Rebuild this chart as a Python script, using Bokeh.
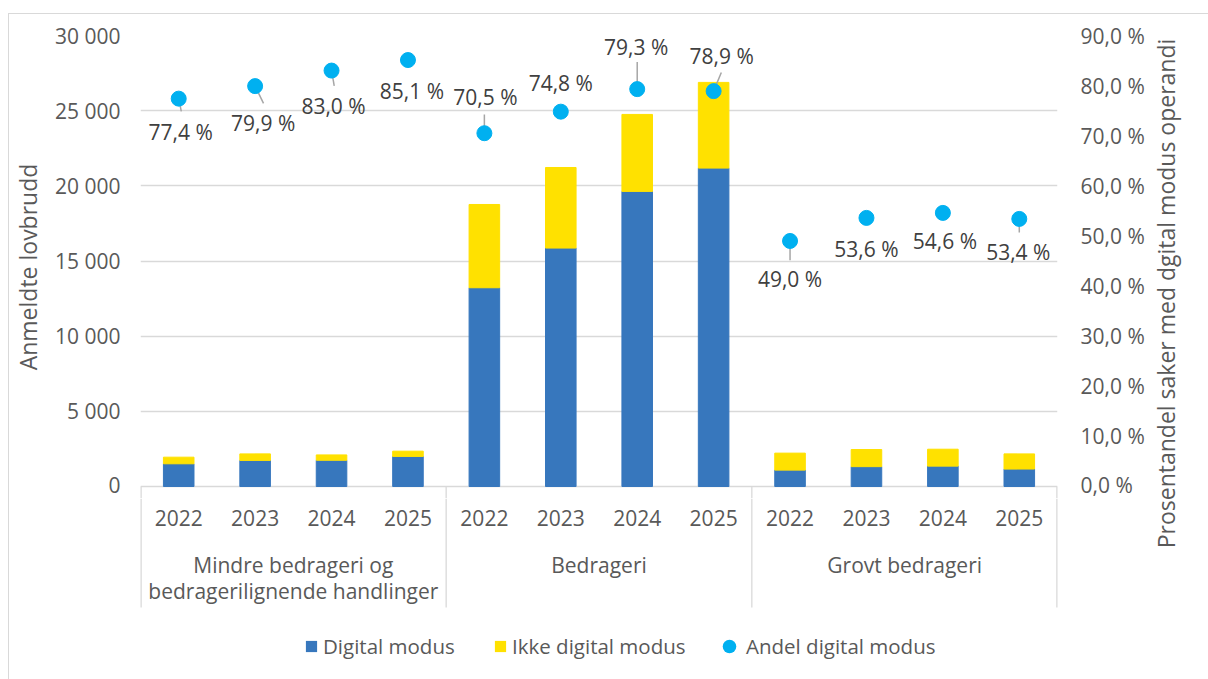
import math
from bokeh.plotting import figure
from bokeh.layouts import column, row
from bokeh.models import (Range1d, LinearAxis, FixedTicker, CustomJSTickFormatter,
                          ColumnDataSource, Legend, LegendItem)
from bokeh.core.properties import value
from bokeh.embed import file_html
from bokeh.resources import INLINE

# ---------------- data ----------------
groups = ["Mindre bedrageri og\nbedragerilignende handlinger", "Bedrageri", "Grovt bedrageri"]
years = ["2022", "2023", "2024", "2025"]
digital = [1510, 1735, 1745, 2000, 13220, 15860, 19630, 21180, 1090, 1320, 1355, 1160]
ikke_digital = [440, 435, 355, 350, 5540, 5360, 5120, 5700, 1130, 1140, 1125, 1010]
andel = [77.4, 79.9, 83.0, 85.1, 70.5, 74.8, 79.3, 78.9, 49.0, 53.6, 54.6, 53.4]
left_ticks = [0, 5000, 10000, 15000, 20000, 25000, 30000]
right_ticks = [0, 10, 20, 30, 40, 50, 60, 70, 80, 90]
series_names = ["Digital modus", "Ikke digital modus", "Andel digital modus"]
left_title = "Anmeldte lovbrudd"
right_title = "Prosentandel saker med dgital modus operandi"

# ---------------- style / layout ----------------
FONT = "Open Sans"
BLUE = "#3777BD"
YELLOW = "#FFE100"
CYAN = "#00B0F0"
GRID = "#d9d9d9"
TXT = "#595959"
LBL = "#404040"

PAGE_X0, PAGE_Y0 = 9, 14          # canvas origin inside the chart border
PAGE_R, PAGE_B = 1208, 679
TITLE_STRIP_X = 1150              # narrow strip that holds the right title
FRAME_L, FRAME_R, FRAME_T = 138, 1057, 35
ZERO_Y = 486
SPLIT_Y = 498          # where top figure ends / bottom figure starts
SEP_BOTTOM_Y = 607
RIGHT_TITLE_CX, RIGHT_TITLE_CY = 1165, 293

W = TITLE_STRIP_X - PAGE_X0
H1 = SPLIT_Y - PAGE_Y0
H2 = PAGE_B - SPLIT_Y
units_per_px = left_ticks[-1] / (ZERO_Y - FRAME_T)
pct_per_px = right_ticks[-1] / (ZERO_Y - FRAME_T)
y_start = -(SPLIT_Y - ZERO_Y) * units_per_px
pct_start = -(SPLIT_Y - ZERO_Y) * pct_per_px

# label offsets (screen px, y down) relative to each point
lab_dx = [2, 8, 2, 4, 1, 0, -1, 8, 0, 0, 2, -1]
lab_dy = [33, 37, 35, 31, -36, -29, -42, -35, 38, 31, 28, 33]
# leader line vectors (screen px, y down) from point centre
lead_dx = [2.6, 8.4, 2.7, 0, 0, 0, 0, 7.7, 0, 0, 0, 0]
lead_dy = [12.7, 17.3, 15.3, 0, -18.7, 0, -27, -18.7, 19.3, 0, 0, 13.7]

n = len(digital)
xs = list(range(n))
total = [d + k for d, k in zip(digital, ikke_digital)]
andel_txt = [f"{v:.1f}".replace(".", ",") + " %" for v in andel]

src = ColumnDataSource(dict(
    x=xs, digital=digital, total=total, andel=andel, andel_txt=andel_txt,
    lx=lab_dx, ly=lab_dy, year=[years[i % len(years)] for i in xs],
))
lead_idx = [i for i in xs if math.hypot(lead_dx[i], lead_dy[i]) > 0]
lead_src = ColumnDataSource(dict(
    x=[xs[i] for i in lead_idx], y=[andel[i] for i in lead_idx],
    length=[math.hypot(lead_dx[i], lead_dy[i]) for i in lead_idx],
    angle=[math.atan2(-lead_dy[i], lead_dx[i]) for i in lead_idx],
))

x_range = Range1d(-0.5, n - 0.5)
bounds = [-0.5, 3.5, 7.5, n - 0.5]
sep_w = [2.5, 1.3, 1.3, 2.5]

# ================= top figure: bars, points, axes =================
p = figure(width=W, height=H1, output_backend="svg", toolbar_location=None,
           x_range=x_range, y_range=Range1d(y_start, left_ticks[-1]),
           min_border_left=FRAME_L - PAGE_X0, min_border_right=(PAGE_X0 + W) - FRAME_R,
           min_border_top=FRAME_T - PAGE_Y0, min_border_bottom=0)
p.extra_y_ranges = {"pct": Range1d(pct_start, right_ticks[-1])}
p.outline_line_color = None
p.xaxis.visible = False
p.xgrid.visible = False
p.ygrid.ticker = FixedTicker(ticks=left_ticks)
p.ygrid.grid_line_color = GRID
p.ygrid.grid_line_width = 1.3

ya = p.yaxis[0]
ya.ticker = FixedTicker(ticks=left_ticks)
ya.formatter = CustomJSTickFormatter(
    code="return Math.round(tick).toString().replace(/\\B(?=(\\d{3})+(?!\\d))/g, ' ');")
ya.axis_label = left_title
ya.axis_label_standoff = 8
ya.major_label_standoff = 14
ya.axis_label_text_font = FONT
ya.axis_label_text_font_size = "23px"
ya.axis_label_text_color = TXT
ya.axis_label_text_font_style = "normal"

ra = LinearAxis(y_range_name="pct", ticker=FixedTicker(ticks=right_ticks),
                formatter=CustomJSTickFormatter(
                    code="return tick.toFixed(1).replace('.', ',') + ' %';"))
ra.major_label_standoff = 17
p.add_layout(ra, "right")

for ax in [ya, ra]:
    ax.axis_line_color = None
    ax.major_tick_line_color = None
    ax.minor_tick_line_color = None
    ax.major_label_text_font = FONT
    ax.major_label_text_font_size = "21px"
    ax.major_label_text_color = TXT

p.vbar(x="x", bottom=0, top="digital", width=0.4, source=src,
       fill_color=BLUE, line_color=BLUE)
p.vbar(x="x", bottom="digital", top="total", width=0.4, source=src,
       fill_color=YELLOW, line_color=YELLOW)

# separators (upper part, below zero line)
p.segment(x0=bounds, y0=[0] * 4, x1=bounds, y1=[y_start] * 4,
          line_color=GRID, line_width=sep_w)

p.ray(x="x", y="y", length="length", angle="angle", length_units="screen",
      source=lead_src, y_range_name="pct", line_color="#a6a6a6", line_width=1.5)
p.scatter(x="x", y="andel", size=15, source=src, y_range_name="pct",
          fill_color=CYAN, line_color=CYAN)
p.text(x="x", y="andel", text="andel_txt", x_offset="lx", y_offset="ly", source=src,
       y_range_name="pct", text_font=value(FONT), text_font_size="21px",
       text_color=LBL, text_align="center", text_baseline="middle")

# ================= bottom figure: category labels + legend =================
# y in pixels below the zero line (negative = down)
q = figure(width=W, height=H2, output_backend="svg", toolbar_location=None,
           x_range=x_range, y_range=Range1d(-(PAGE_B - ZERO_Y), -(SPLIT_Y - ZERO_Y)),
           min_border_left=FRAME_L - PAGE_X0, min_border_right=(PAGE_X0 + W) - FRAME_R,
           min_border_top=0, min_border_bottom=0)
q.extra_y_ranges = {"carrier": Range1d(-2000, -1999)}
q.outline_line_color = None
q.axis.visible = False
q.grid.visible = False

q.segment(x0=bounds, y0=[-(SPLIT_Y - ZERO_Y)] * 4, x1=bounds,
          y1=[-(SEP_BOTTOM_Y - ZERO_Y)] * 4, line_color=GRID, line_width=sep_w)

q.text(x="x", y=-31, text="year", source=src,
       text_font=value(FONT), text_font_size="21px", text_color=TXT,
       text_align="center", text_baseline="middle")
gx = [sum(xs[i * 4:(i + 1) * 4]) / 4 for i in range(len(groups))]
q.text(x=gx, y=[-64] * len(groups), text=groups,
       text_font=value(FONT), text_font_size="21px", text_color=TXT,
       text_align="center", text_baseline="top", text_line_height=0.95)

# legend carriers: same series, zero-size marks on a range off this panel
lg_dig = q.vbar(x="x", bottom=0, top="digital", width=0, source=src,
                y_range_name="carrier", fill_color=BLUE, line_color=None)
lg_ikke = q.vbar(x="x", bottom="digital", top="total", width=0, source=src,
                 y_range_name="carrier", fill_color=YELLOW, line_color=None)
lg_pct = q.scatter(x="x", y="andel", size=0, source=src, y_range_name="carrier",
                   fill_color=CYAN, line_color=None)

common = dict(orientation="horizontal", padding=0, margin=0, border_line_color=None,
              background_fill_alpha=0, label_text_font=FONT,
              label_text_font_size="20.5px", label_text_color=TXT)
LEG_CY = 646
leg_specs = [(series_names[0], lg_dig, 302, 14, 5),
             (series_names[1], lg_ikke, 491, 14, 5),
             (series_names[2], lg_pct, 710, 34, 0)]
for name, rend, left, gsize, stand in leg_specs:
    hh = max(gsize, 27)
    lg = Legend(items=[LegendItem(label=name, renderers=[rend])],
                location=(left - FRAME_L, PAGE_B - (LEG_CY + hh / 2)),
                glyph_width=gsize, glyph_height=gsize, label_standoff=stand,
                label_height=27, **common)
    q.add_layout(lg)

# ================= right strip: secondary axis title =================
r = figure(width=PAGE_R - TITLE_STRIP_X, height=PAGE_B - PAGE_Y0, output_backend="svg",
           toolbar_location=None, x_range=Range1d(TITLE_STRIP_X, PAGE_R),
           y_range=Range1d(PAGE_B, PAGE_Y0),
           min_border_left=0, min_border_right=0, min_border_top=0, min_border_bottom=0)
r.outline_line_color = None
r.axis.visible = False
r.grid.visible = False
r.text(x=[RIGHT_TITLE_CX], y=[RIGHT_TITLE_CY], text=[right_title], angle=math.pi / 2,
       text_font=value(FONT), text_font_size="23px", text_color=TXT,
       text_align="center", text_baseline="middle")

layout = row(column(p, q), r,
             styles={"margin-left": "8px", "margin-top": "13px",
                     "border-left": "1px solid #d9d9d9",
                     "border-top": "1px solid #d9d9d9"})
open("out.html", "w").write(file_html(layout, INLINE))
